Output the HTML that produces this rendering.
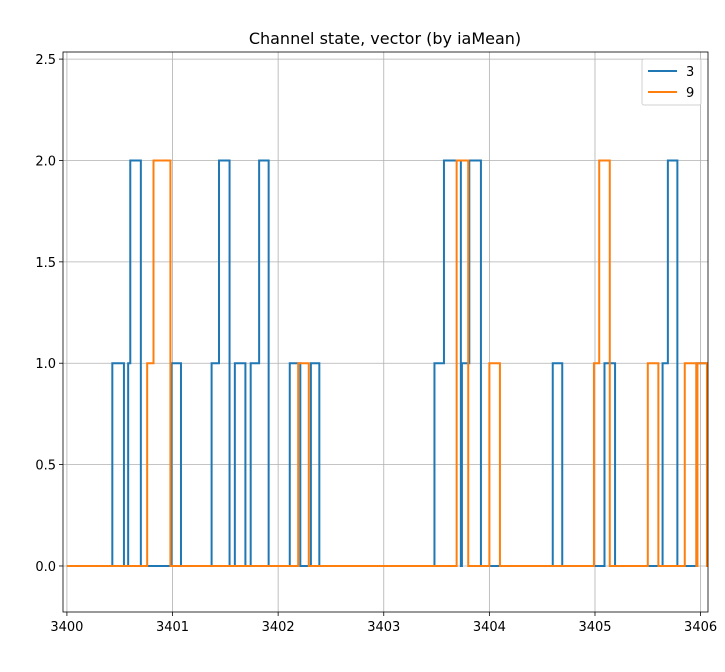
<!DOCTYPE html>
<html><head><meta charset="utf-8"><style>
body{margin:0;background:#fff;font-family:"Liberation Sans","DejaVu Sans",sans-serif;}
</style></head><body>
<svg id="chart" width="725" height="667" xmlns="http://www.w3.org/2000/svg">
<rect width="725" height="667" fill="#fff"/>
<text x="385" y="44" text-anchor="middle" font-size="16" fill="#000" font-family="DejaVu Sans, Liberation Sans, sans-serif">Channel state, vector (by iaMean)</text>
<g id="grid"></g><g id="series"></g><g id="axes"></g>
</svg>
<script>
const xTicks=[3400,3401,3402,3403,3404,3405,3406];
const yTicks=[0.0,0.5,1.0,1.5,2.0,2.5];
const yTickLabels=["0.0","0.5","1.0","1.5","2.0","2.5"];
const s3Times=[3400,3400.43,3400.54,3400.58,3400.60,3400.70,3400.99,3401.08,3401.37,3401.44,3401.54,3401.59,3401.69,3401.74,3401.82,3401.91,3402.11,3402.21,3402.31,3402.39,3403.48,3403.57,3403.73,3403.74,3403.81,3403.92,3404.60,3404.69,3405.09,3405.19,3405.64,3405.69,3405.78,3405.96,3406.06];
const s3Values=[0,1,0,1,2,0,1,0,1,2,0,1,0,1,2,0,1,0,1,0,1,2,0,1,2,0,1,0,1,0,1,2,0,1,1];
const s9Times=[3400,3400.76,3400.82,3400.98,3402.19,3402.29,3403.69,3403.80,3404.00,3404.10,3404.99,3405.04,3405.14,3405.50,3405.60,3405.85,3405.96,3405.97,3406.06];
const s9Values=[0,1,2,0,1,0,2,0,1,0,1,2,0,1,0,1,0,1,0];
const seriesNames=["3","9"];
const L=63,R=708,T=52,B=612;
const x0=3399.963,x1=3406.07,y0=-0.227,y1=2.535;
const sx=v=>L+(v-x0)/(x1-x0)*(R-L);
const sy=v=>B-(v-y0)/(y1-y0)*(B-T);
const NS="http://www.w3.org/2000/svg";
function mk(t,a,p){const e=document.createElementNS(NS,t);for(const k in a)e.setAttribute(k,a[k]);p.appendChild(e);return e;}
const grid=document.getElementById('grid'),axes=document.getElementById('axes'),ser=document.getElementById('series');
xTicks.forEach(t=>{
 const g=mk('line',{x1:sx(t),x2:sx(t),y1:T,y2:B,stroke:'#b0b0b0','stroke-width':0.8},grid);
 
 
 mk('line',{x1:sx(t),x2:sx(t),y1:B,y2:B+4,stroke:'#000','stroke-width':0.8},axes);
 const l=mk('text',{x:sx(t),y:B+19,'text-anchor':'middle','font-size':13,'font-family':'DejaVu Sans, Liberation Sans, sans-serif'},axes);
 l.textContent=t;
 
 
});
yTicks.forEach((t,i)=>{
 const g=mk('line',{x1:L,x2:R,y1:sy(t),y2:sy(t),stroke:'#b0b0b0','stroke-width':0.8},grid);
 
 
 mk('line',{x1:L-4,x2:L,y1:sy(t),y2:sy(t),stroke:'#000','stroke-width':0.8},axes);
 const l=mk('text',{x:L-7,y:sy(t)+5,'text-anchor':'end','font-size':13,'font-family':'DejaVu Sans, Liberation Sans, sans-serif'},axes);
 l.textContent=yTickLabels[i];
 
 
});
const frame=mk('rect',{x:L,y:T,width:R-L,height:B-T,fill:'none',stroke:'#000','stroke-width':0.8},axes);


function stepPath(ts,vs){let d='M'+sx(ts[0])+','+sy(vs[0]);for(let i=1;i<ts.length;i++){d+=' H'+sx(ts[i])+' V'+sy(vs[i]);}d+=' H'+sx(x1);return d;}
const p3=mk('path',{d:stepPath(s3Times,s3Values),fill:'none',stroke:'#1f77b4','stroke-width':2},ser);


const p9=mk('path',{d:stepPath(s9Times,s9Values),fill:'none',stroke:'#ff7f0e','stroke-width':2},ser);


const lg=mk('g',{},axes);


mk('rect',{x:642,y:59,width:59,height:46,fill:'#fff','fill-opacity':0.8,stroke:'#d0d0d0','stroke-width':1,rx:2},lg);
[['#1f77b4',71],['#ff7f0e',92]].forEach((c,i)=>{
 const e=mk('line',{x1:648,x2:677,y1:c[1],y2:c[1],stroke:c[0],'stroke-width':2},lg);
 
 
 const t=mk('text',{x:686,y:c[1]+5,'font-size':13,'font-family':'DejaVu Sans, Liberation Sans, sans-serif'},lg);
 t.textContent=seriesNames[i];
 
 
});
</script>
</body></html>
